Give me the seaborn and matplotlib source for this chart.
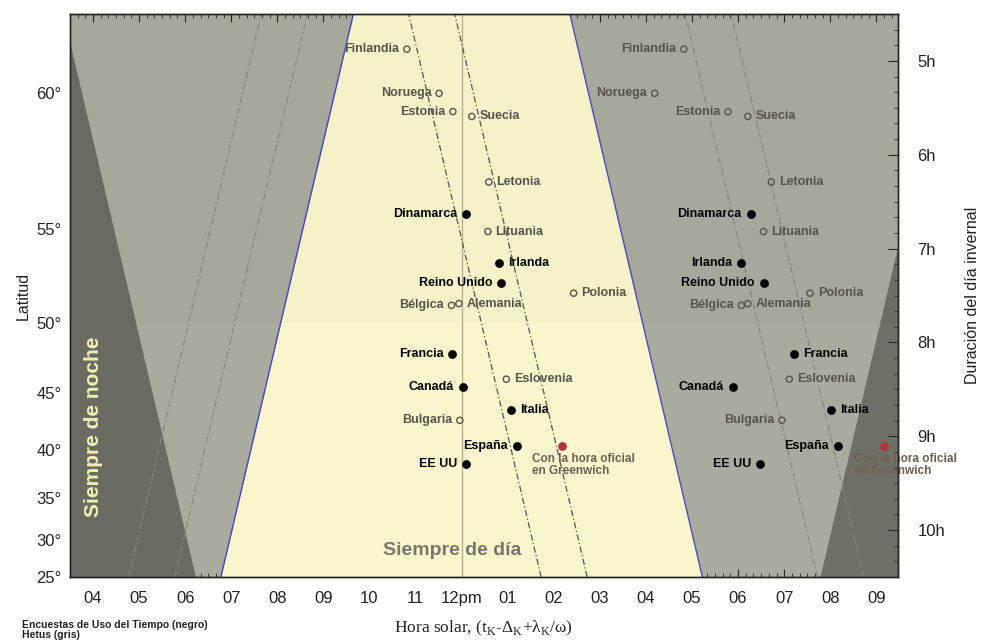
import numpy as np
import pandas as pd
import matplotlib
matplotlib.use('Agg')
import matplotlib.pyplot as plt
import seaborn as sns

# datos
paises = ['Finlandia', 'Noruega', 'Estonia', 'Suecia', 'Letonia', 'Dinamarca', 'Lituania',
          'Irlanda', 'Reino Unido', 'Polonia', 'Bélgica', 'Alemania', 'Francia', 'Eslovenia',
          'Canadá', 'Italia', 'Bulgaria', 'España', 'EE UU']
fuente = ['Hetus', 'Hetus', 'Hetus', 'Hetus', 'Hetus', 'EUT', 'Hetus',
          'EUT', 'EUT', 'Hetus', 'Hetus', 'Hetus', 'EUT', 'Hetus',
          'EUT', 'EUT', 'Hetus', 'EUT', 'EUT']
latitud = [61.2, 60.0, 59.45, 59.3, 57.0, 55.7, 54.9,
           53.35, 52.3, 51.75, 51.05, 51.15, 47.95, 46.1,
           45.5, 43.6, 42.75, 40.45, 38.6]
hora_comida = [10.81, 11.51, 11.81, 12.22, 12.59, 12.10, 12.57,
               12.82, 12.86, 14.43, 11.78, 11.94, 11.80, 12.97,
               12.02, 13.08, 11.96, 13.20, 12.10]
hora_cena = [16.82, 16.19, 17.78, 18.21, 18.72, 18.27, 18.55,
             18.07, 18.56, 19.56, 18.07, 18.21, 19.21, 19.11,
             17.89, 20.02, 18.95, 20.16, 18.48]
lado_comida = ['l', 'l', 'l', 'r', 'r', 'l', 'r', 'r', 'l', 'r', 'l', 'r', 'l', 'r', 'l', 'r', 'l', 'l', 'l']
lado_cena = ['l', 'l', 'l', 'r', 'r', 'l', 'r', 'l', 'l', 'r', 'l', 'r', 'r', 'r', 'l', 'r', 'l', 'l', 'l']

greenwich_lat = 40.45
greenwich_horas = [14.18, 21.16]

lat_ticks = [25, 30, 35, 40, 45, 50, 55, 60]
h_ticks = [5, 6, 7, 8, 9, 10]
x_ticks = list(range(4, 22))
x_labels = ['04', '05', '06', '07', '08', '09', '10', '11', '12pm',
            '01', '02', '03', '04', '05', '06', '07', '08', '09']

# lineas auxiliares: desplazamiento (h) respecto al amanecer / ocaso invernal
desp_amanecer = [-2, -1]
desp_ocaso_centro = [-3.5, -2.5]
desp_ocaso_lado = [2.5, 3.5]
horario_verano = 1


def dia(lat):
    # duracion del dia en el solsticio de invierno (h)
    return 2 / 15 * np.degrees(np.arccos(np.tan(np.radians(lat)) * np.tan(np.radians(23.44))))


df = pd.DataFrame({'pais': paises * 2, 'fuente': fuente * 2,
                   'D': list(dia(np.array(latitud))) * 2,
                   'hora': hora_comida + hora_cena,
                   'lado': lado_comida + lado_cena})

sns.set_style('ticks')
plt.rcParams['font.family'] = ['Liberation Sans', 'DejaVu Sans']

fig = plt.figure(figsize=(9.84, 6.43), dpi=100)
ax = fig.add_axes([0.0711, 0.1026, 0.8415, 0.8756])

YLIM = (10.45, 4.70)
XLIM = (3.5, 21.47)
D = np.linspace(4.5, 10.7, 300)

ax.set_facecolor('#aaab9f')
ax.fill_betweenx(D, 0, D / 2 + horario_verano, color='#6a6c62', lw=0)
ax.fill_betweenx(D, 24 - D / 2 + horario_verano, 30, color='#6e7066', lw=0)
ax.fill_betweenx(D, 12 - D / 2, 12 + D / 2, color='#f9f6cd', lw=0)
ax.axhspan(4.0, dia(50), color='black', alpha=0.015, lw=0)

ax.plot(12 - D / 2, D, color='#4a48b8', lw=1)
ax.plot(12 + D / 2, D, color='#4a48b8', lw=1)
ax.axvline(12, color='#b3b094', lw=1)

for d in desp_amanecer:
    ax.plot(12 - D / 2 + d, D, color='#85867c', lw=0.9, dashes=(5, 2, 1, 2))
for d in desp_ocaso_lado:
    ax.plot(12 + D / 2 + d, D, color='#85867c', lw=0.9, dashes=(5, 2, 1, 2))
for d in desp_ocaso_centro:
    ax.plot(12 + D / 2 + d, D, color='#55554c', lw=0.9, dashes=(5, 2, 1, 2))

eut = df[df.fuente == 'EUT']
het = df[df.fuente == 'Hetus']
sns.scatterplot(data=eut, x='hora', y='D', color='black', s=40, linewidth=0, ax=ax, zorder=5)
ax.scatter(het.hora, het.D, s=20, facecolors='none', edgecolors='#55554c', linewidths=1, zorder=5)
sns.scatterplot(x=greenwich_horas, y=[dia(greenwich_lat)] * 2, color='#b0383a', s=40,
                linewidth=0, ax=ax, zorder=5)

for _, r in df.iterrows():
    lleno = r.fuente == 'EUT'
    off = 6.5 if lleno else 5.5
    dx = off if r.lado == 'r' else -off
    ax.annotate(r.pais, (r.hora, r.D), xytext=(dx, 0), textcoords='offset points',
                ha='left' if r.lado == 'r' else 'right', va='center',
                fontsize=9, fontweight='bold', color='black' if lleno else '#55554c', zorder=6)

for h in greenwich_horas:
    ax.annotate('Con la hora oficial\nen Greenwich', (h, dia(greenwich_lat)),
                xytext=(h - 0.65, dia(greenwich_lat) + 0.08), textcoords='data',
                ha='left', va='top', fontsize=8.5, fontweight='bold',
                color='#6e5e50', linespacing=1.0, zorder=6)

ax.text(4.0, 8.92, 'Siempre de noche', rotation=90, ha='center', va='center',
        fontsize=15, fontweight='bold', color='#eef0b6')
ax.text(11.8, 10.18, 'Siempre de día', ha='center', va='center',
        fontsize=14, fontweight='bold', color='#7a776a')

ax.set_xlim(XLIM)
ax.set_ylim(YLIM)
ax.set_xticks(x_ticks)
ax.set_xticklabels(x_labels)
ax.set_xticks(np.arange(3.5, 21.5, 1 / 6), minor=True)
ax.set_yticks(dia(np.array(lat_ticks)))
ax.set_yticklabels([f'{v}°' for v in lat_ticks])
ax.tick_params(axis='x', which='both', direction='in', top=True, labelsize=12, pad=10,
               labelcolor='#222222')
ax.tick_params(axis='x', which='major', length=6)
ax.tick_params(axis='x', which='minor', length=3)
ax.tick_params(axis='y', which='major', direction='in', length=6, labelsize=12, pad=6,
               labelcolor='#222222')
ax.set_xlabel('Hora solar, (t$_\\mathregular{K}$-Δ$_\\mathregular{K}$+λ$_\\mathregular{K}$/ω)',
              fontsize=12.5, family=['Liberation Serif', 'DejaVu Serif'], labelpad=9,
              color='#222222')
ax.set_ylabel('Latitud', fontsize=11.5, labelpad=4, color='#222222')

ax2 = ax.twinx()
ax2.set_ylim(10.42, 4.67)
ax2.set_yticks(h_ticks)
ax2.set_yticklabels([f'{v}h' for v in h_ticks])
ax2.set_yticks(np.arange(4.5, 10.6, 1 / 6), minor=True)
ax2.tick_params(axis='y', which='major', direction='in', length=7, labelsize=12, pad=14,
                labelcolor='#222222')
ax2.tick_params(axis='y', which='minor', direction='in', length=3)
ax2.set_ylabel('Duración del día invernal', fontsize=11.5, labelpad=14, color='#222222')

for a in (ax, ax2):
    for s in a.spines.values():
        s.set_color('#222222')
        s.set_linewidth(1)

fig.text(0.022, 0.004, 'Encuestas de Uso del Tiempo (negro)\nHetus (gris)', fontsize=7.5,
         fontweight='bold', color='#222222', ha='left', va='bottom', linespacing=1.0)

fig.savefig('out.png', dpi=100)
